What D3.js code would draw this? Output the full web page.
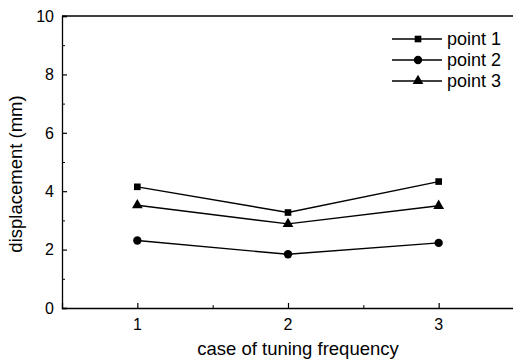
<!DOCTYPE html>
<html>
<head>
<meta charset="utf-8">
<script src="https://cdn.jsdelivr.net/npm/d3@7"></script>
<style>
  body { margin: 0; background: #fff; }
  svg { font-family: "Liberation Sans", Arial, sans-serif; }
</style>
</head>
<body>
<div class="chart"></div>
<script>
// data
var cases = [1, 2, 3];
var point1 = [4.15, 3.27, 4.33];
var point2 = [2.31, 1.84, 2.23];
var point3 = [3.52, 2.88, 3.5];
var seriesNames = ["point 1", "point 2", "point 3"];
var seriesShapes = ["square", "circle", "triangle"];
var yTicks = [0, 2, 4, 6, 8, 10];

var series = [point1, point2, point3];

var width = 513, height = 360;
var margin = {top: 16, right: 0, bottom: 52, left: 62};

var x = d3.scaleLinear().domain([0.5, 3.5]).range([margin.left, 514]);
var y = d3.scaleLinear().domain([0, 10]).range([height - margin.bottom, margin.top]);

var svg = d3.select(".chart").append("svg")
    .attr("width", width)
    .attr("height", height);

// top frame line
svg.append("line")
    .attr("x1", x(0.5)).attr("x2", x(3.5))
    .attr("y1", y(10)).attr("y2", y(10))
    .attr("stroke", "#000").attr("stroke-width", 1.3);

// y axis, ticks pointing inward
svg.append("g")
    .attr("transform", "translate(" + x(0.5) + ",0)")
    .call(d3.axisRight(y).tickValues(yTicks).tickSize(5).tickFormat(""))
    .call(function(g) {
      g.select(".domain").attr("stroke-width", 1.3);
      g.selectAll(".tick line").attr("stroke-width", 1.2);
    });
// minor y ticks
svg.append("g")
    .attr("transform", "translate(" + x(0.5) + ",0)")
    .call(d3.axisRight(y).tickValues([1, 3, 5, 7, 9]).tickSize(3).tickFormat(""))
    .call(function(g) { g.select(".domain").remove(); });
// y labels
svg.append("g").selectAll("text")
    .data(yTicks)
    .enter().append("text")
    .attr("x", x(0.5) - 8)
    .attr("y", function(d) { return y(d); })
    .attr("dy", "0.36em")
    .attr("text-anchor", "end")
    .style("font-size", "16px")
    .text(function(d) { return d; });

// x axis, ticks pointing inward
svg.append("g")
    .attr("transform", "translate(0," + y(0) + ")")
    .call(d3.axisTop(x).tickValues(cases).tickSize(5).tickFormat(""))
    .call(function(g) {
      g.select(".domain").attr("stroke-width", 1.3);
      g.selectAll(".tick line").attr("stroke-width", 1.2);
    });
svg.append("g")
    .attr("transform", "translate(0," + y(0) + ")")
    .call(d3.axisTop(x).tickValues([1.5, 2.5]).tickSize(3).tickFormat(""))
    .call(function(g) { g.select(".domain").remove(); });
svg.append("g").selectAll("text")
    .data(cases)
    .enter().append("text")
    .attr("x", function(d) { return x(d); })
    .attr("y", y(0) + 22)
    .attr("text-anchor", "middle")
    .style("font-size", "16px")
    .text(function(d) { return d; });

// axis titles
svg.append("text")
    .attr("x", 298)
    .attr("y", 355)
    .attr("text-anchor", "middle")
    .style("font-size", "18.5px")
    .text("case of tuning frequency");

svg.append("text")
    .attr("transform", "rotate(-90)")
    .attr("x", -174)
    .attr("y", 22)
    .attr("text-anchor", "middle")
    .style("font-size", "18.5px")
    .text("displacement (mm)");

var symbolOf = {
  square: d3.symbol().type(d3.symbolSquare).size(44),
  circle: d3.symbol().type(d3.symbolCircle).size(55),
  triangle: d3.symbol().type(d3.symbolTriangle).size(50)
};

var line = d3.line()
    .x(function(d, i) { return x(cases[i]); })
    .y(function(d) { return y(d); });

series.forEach(function(vals, si) {
  svg.append("path")
      .datum(vals)
      .attr("fill", "none")
      .attr("stroke", "#000")
      .attr("stroke-width", 1.4)
      .attr("d", line);

  svg.append("g").selectAll("path")
      .data(vals)
      .enter().append("path")
      .attr("transform", function(d, i) { return "translate(" + x(cases[i]) + "," + y(d) + ")"; })
      .attr("d", symbolOf[seriesShapes[si]])
      .attr("fill", "#000");
});

// legend
var legend = svg.append("g").attr("transform", "translate(392,39)");
seriesNames.forEach(function(name, i) {
  var row = legend.append("g").attr("transform", "translate(0," + (i * 21) + ")");
  row.append("line")
      .attr("x1", 0).attr("x2", 50)
      .attr("y1", 0).attr("y2", 0)
      .attr("stroke", "#000").attr("stroke-width", 1.4);
  row.append("path")
      .attr("transform", "translate(26,0)")
      .attr("d", symbolOf[seriesShapes[i]])
      .attr("fill", "#000");
  row.append("text")
      .attr("x", 55)
      .attr("y", 0)
      .attr("dy", "0.35em")
      .style("font-size", "18px")
      .text(name);
});
</script>
</body>
</html>
